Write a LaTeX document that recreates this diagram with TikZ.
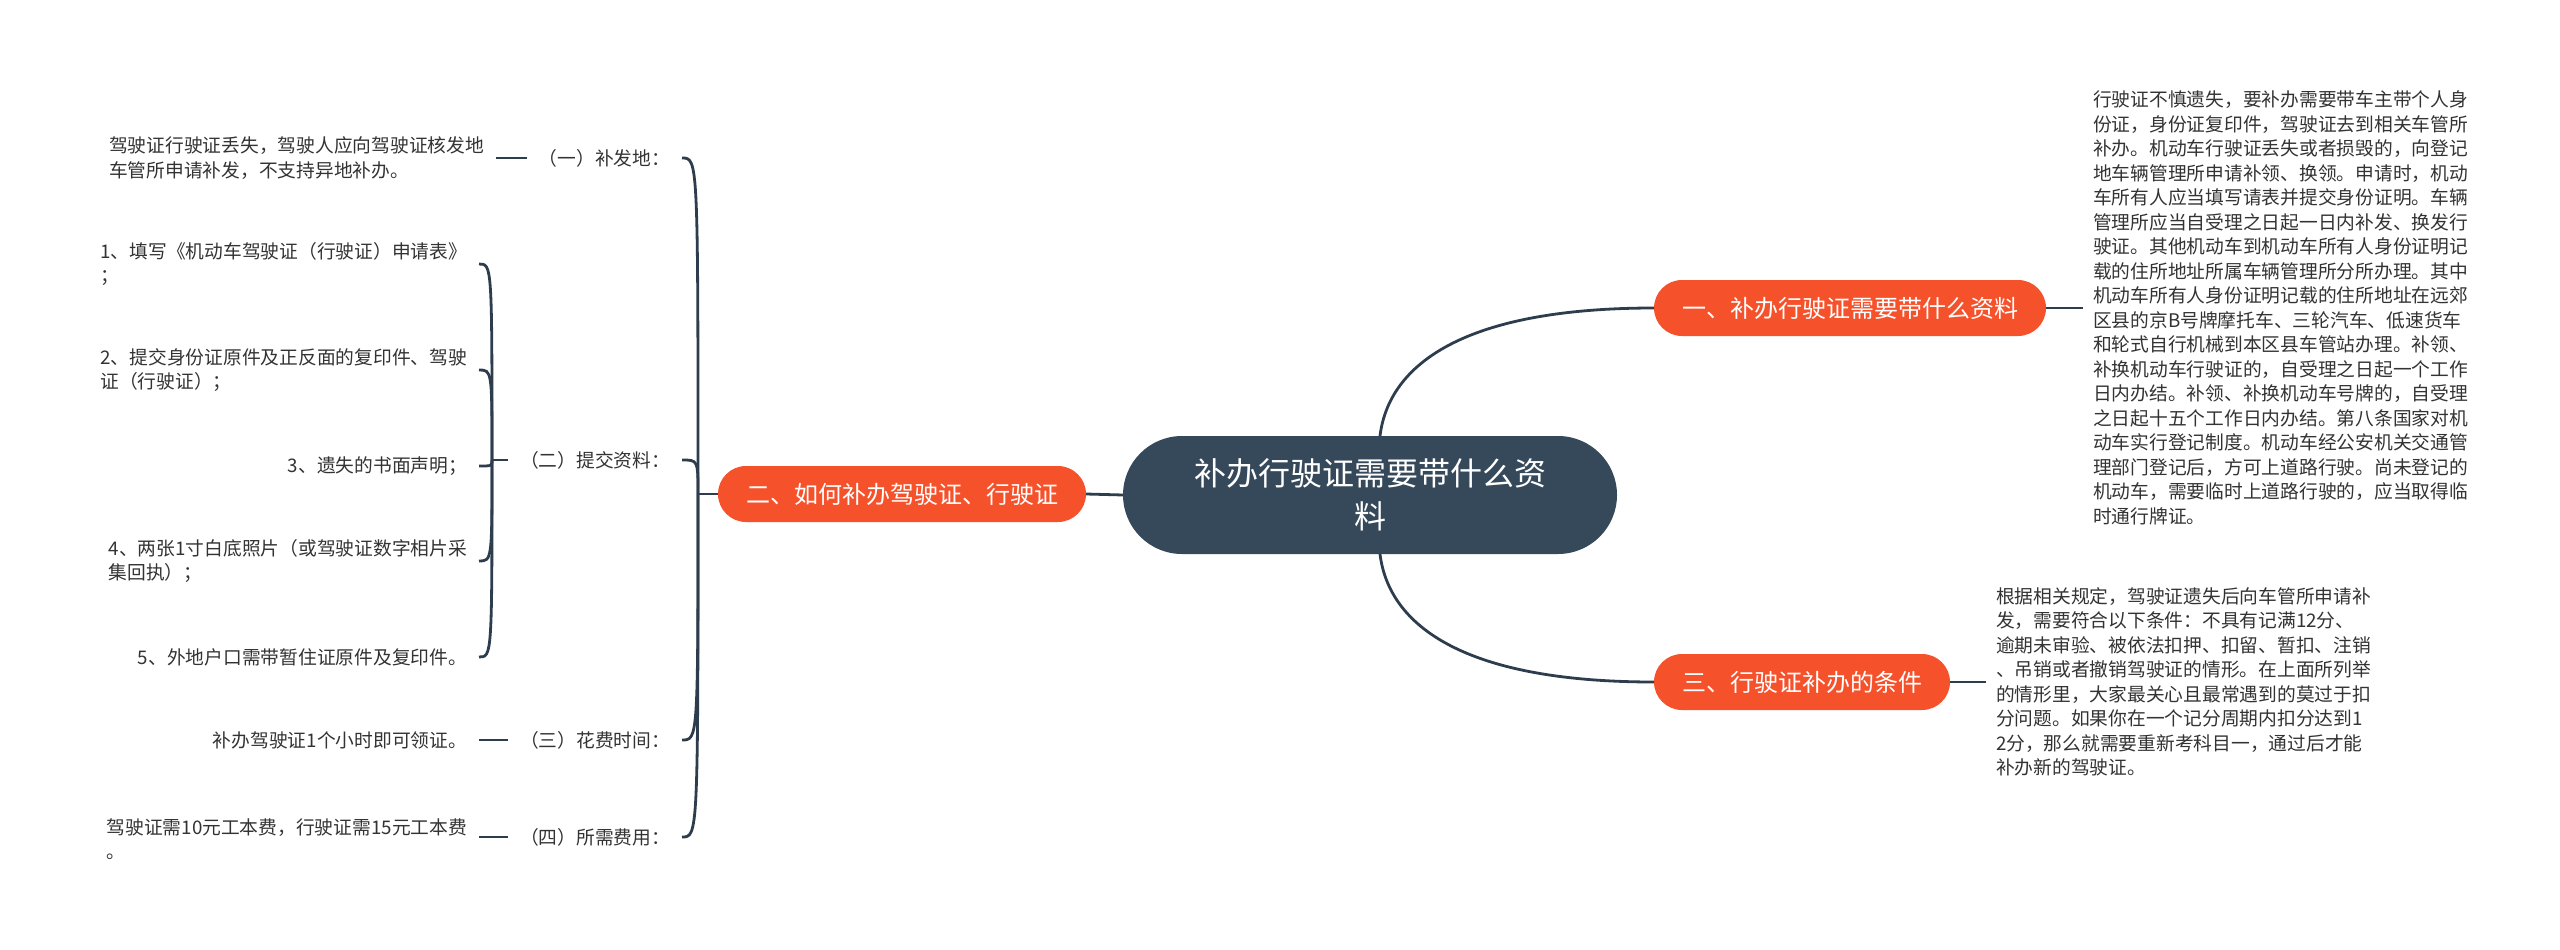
\documentclass[tikz,border=0pt]{standalone}
\usepackage{fontspec}
\setmainfont{Noto Sans CJK SC}
\usetikzlibrary{calc}
\definecolor{orangeN}{HTML}{F5522C}
\definecolor{darkN}{HTML}{36495A}
\definecolor{lineC}{HTML}{2E3D4D}
\definecolor{txt}{HTML}{333333}
\begin{document}
\begin{tikzpicture}[x=1pt,y=-1pt,
  every node/.style={inner sep=0pt, outer sep=0pt},
  root/.style={fill=darkN, text=white, rounded corners=59pt, minimum width=494pt, minimum height=118pt, align=center, font=\fontsize{32}{43}\selectfont},
  topic/.style={fill=orangeN, text=white, rounded corners=28pt, minimum height=56pt, inner xsep=28pt, font=\fontsize{24}{28}\selectfont},
  body/.style={text=txt, align=left, font=\fontsize{18.75}{24.5}\selectfont},
  leftbody/.style={body, inner xsep=12pt},
  rightbody/.style={body, inner xsep=10pt},
  conn/.style={draw=lineC, line width=2.8pt},
  brace/.style={draw=lineC, line width=2.8pt},
]
\useasboundingbox[fill=white] (0,0) rectangle (2560,950);

% central and main topics
\node[root] (c) at (1370,495) {补办行驶证需要带什么资\\料};
\node[topic] (n1) at (1850,308) {一、补办行驶证需要带什么资料};
\node[topic] (n2) at (902,494) {二、如何补办驾驶证、行驶证};
\node[topic] (n3) at (1802,682) {三、行驶证补办的条件};

% right text blocks
\node[rightbody, anchor=west] (b1) at (2083,308) {行驶证不慎遗失，要补办需要带车主带个人身\\份证，身份证复印件，驾驶证去到相关车管所\\补办。机动车行驶证丢失或者损毁的，向登记\\地车辆管理所申请补领、换领。申请时，机动\\车所有人应当填写请表并提交身份证明。车辆\\管理所应当自受理之日起一日内补发、换发行\\驶证。其他机动车到机动车所有人身份证明记\\载的住所地址所属车辆管理所分所办理。其中\\机动车所有人身份证明记载的住所地址在远郊\\区县的京B号牌摩托车、三轮汽车、低速货车\\和轮式自行机械到本区县车管站办理。补领、\\补换机动车行驶证的，自受理之日起一个工作\\日内办结。补领、补换机动车号牌的，自受理\\之日起十五个工作日内办结。第八条国家对机\\动车实行登记制度。机动车经公安机关交通管\\理部门登记后，方可上道路行驶。尚未登记的\\机动车，需要临时上道路行驶的，应当取得临\\时通行牌证。};
\node[rightbody, anchor=west] (b3) at (1986,682) {根据相关规定，驾驶证遗失后向车管所申请补\\发，需要符合以下条件：不具有记满12分、\\逾期未审验、被依法扣押、扣留、暂扣、注销\\、吊销或者撤销驾驶证的情形。在上面所列举\\的情形里，大家最关心且最常遇到的莫过于扣\\分问题。如果你在一个记分周期内扣分达到1\\2分，那么就需要重新考科目一，通过后才能\\补办新的驾驶证。};

% left labels
\node[leftbody, anchor=east] (L1) at (682,158) {（一）补发地：};
\node[leftbody, anchor=east] (L2) at (682,460) {（二）提交资料：};
\node[leftbody, anchor=east] (L3) at (682,740) {（三）花费时间：};
\node[leftbody, anchor=east] (L4) at (682,837) {（四）所需费用：};

% left texts
\node[leftbody, anchor=east] (T1) at (496,158) {驾驶证行驶证丢失，驾驶人应向驾驶证核发地\\车管所申请补发，不支持异地补办。};
\node[leftbody, anchor=east] (I1) at (479,264) {1、填写《机动车驾驶证（行驶证）申请表》\\；};
\node[leftbody, anchor=east] (I2) at (479,370) {2、提交身份证原件及正反面的复印件、驾驶\\证（行驶证）；};
\node[leftbody, anchor=east] (I3) at (479,466) {3、遗失的书面声明；};
\node[leftbody, anchor=east] (I4) at (479,561) {4、两张1寸白底照片（或驾驶证数字相片采\\集回执）；};
\node[leftbody, anchor=east] (I5) at (479,657) {5、外地户口需带暂住证原件及复印件。};
\node[leftbody, anchor=east] (T3) at (479,740) {补办驾驶证1个小时即可领证。};
\node[leftbody, anchor=east] (T4) at (479,839) {驾驶证需10元工本费，行驶证需15元工本费\\。};

% right connectors
\draw[conn] ([xshift=10pt]c.north) .. controls +(8,-66) and +(-200,0) .. (n1.west);
\draw[conn] ([xshift=10pt]c.south) .. controls +(8,66) and +(-200,0) .. (n3.west);
\draw[conn] (c.west) -- (n2.east);
\draw[conn] (n1.east) -- (b1.west);
\draw[conn] (n3.east) -- (b3.west);

% big brace
\coordinate (j1) at ($(n2.west)+(-20,0)$);
\draw[brace] (n2.west) -- (j1);
\foreach \n in {L1,L2,L3,L4}
  \draw[brace] (j1) .. controls (j1 |- \n.east) and (j1 |- \n.east) .. (\n.east);

% brace for (二)
\coordinate (j2) at ($(L2.west)+(-16,0)$);
\draw[brace] (L2.west) -- (j2);
\foreach \n in {I1,I2,I3,I4,I5}
  \draw[brace] (j2) .. controls (j2 |- \n.east) and (j2 |- \n.east) .. (\n.east);

% dashes
\draw[conn] (L1.west) -- (T1.east |- L1.west);
\draw[conn] (L3.west) -- (T3.east);
\draw[conn] (L4.west) -- (T4.east |- L4.west);
\end{tikzpicture}
\end{document}
